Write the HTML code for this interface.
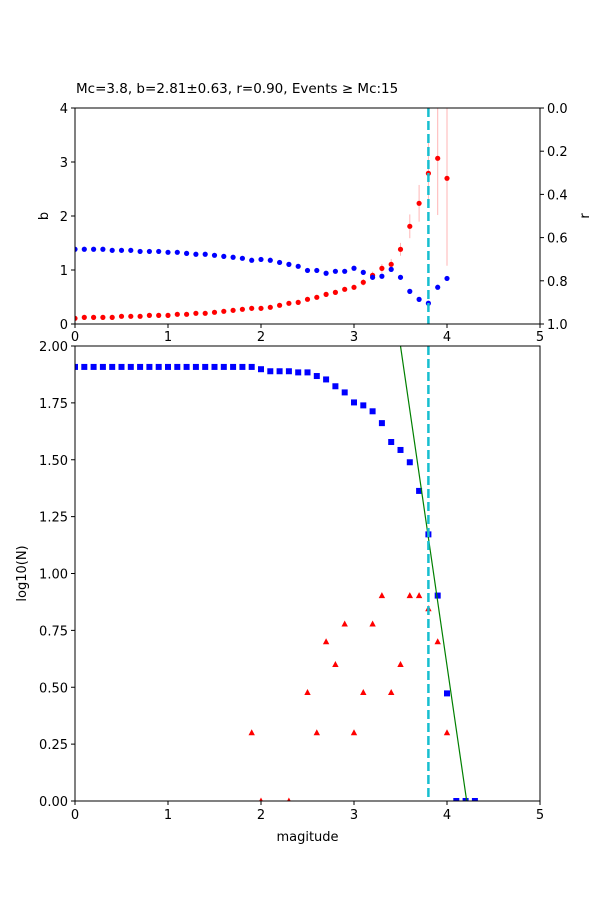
<!DOCTYPE html>
<html><head><meta charset="utf-8"><style>
html,body{margin:0;padding:0;background:#fff;}
svg{display:block;font-family:"DejaVu Sans","Liberation Sans",sans-serif;}
</style></head><body>
<svg id="chart" width="600" height="900" viewBox="0 0 600 900" xmlns="http://www.w3.org/2000/svg">
<rect width="600" height="900" fill="#fff"/>
<text x="76" y="93" font-size="13.5">Mc=3.8, b=2.81±0.63, r=0.90, Events ≥ Mc:15</text>
<g id="topPanel"></g>
<g id="botPanel"></g>
</svg>
<script>
const mags=[0,0.1,0.2,0.3,0.4,0.5,0.6,0.7,0.8,0.9,1.0,1.1,1.2,1.3,1.4,1.5,1.6,1.7,1.8,1.9,2.0,2.1,2.2,2.3,2.4,2.5,2.6,2.7,2.8,2.9,3.0,3.1,3.2,3.3,3.4,3.5,3.6,3.7,3.8,3.9,4.0];
const bVals=[0.105,0.123,0.123,0.123,0.123,0.142,0.142,0.142,0.16,0.16,0.16,0.179,0.179,0.198,0.198,0.216,0.235,0.253,0.272,0.29,0.29,0.309,0.346,0.383,0.40,0.457,0.494,0.549,0.586,0.642,0.679,0.772,0.90,1.03,1.105,1.383,1.809,2.235,2.79,3.068,2.698];
const bErr=[0.01,0.01,0.01,0.01,0.01,0.01,0.01,0.01,0.01,0.01,0.01,0.01,0.01,0.01,0.01,0.01,0.01,0.01,0.02,0.02,0.02,0.02,0.02,0.03,0.03,0.03,0.03,0.04,0.04,0.04,0.05,0.06,0.07,0.08,0.1,0.12,0.22,0.34,0.6,1.05,1.62];
const rVals=[0.654,0.654,0.654,0.654,0.659,0.659,0.659,0.664,0.664,0.664,0.668,0.668,0.673,0.677,0.677,0.682,0.687,0.691,0.696,0.705,0.701,0.705,0.715,0.724,0.733,0.752,0.752,0.765,0.756,0.756,0.742,0.761,0.784,0.779,0.747,0.784,0.849,0.886,0.904,0.830,0.789];
const cumMags=[0,0.1,0.2,0.3,0.4,0.5,0.6,0.7,0.8,0.9,1.0,1.1,1.2,1.3,1.4,1.5,1.6,1.7,1.8,1.9,2.0,2.1,2.2,2.3,2.4,2.5,2.6,2.7,2.8,2.9,3.0,3.1,3.2,3.3,3.4,3.5,3.6,3.7,3.8,3.9,4.0,4.1,4.2,4.3];
const cumLogN=[1.908,1.908,1.908,1.908,1.908,1.908,1.908,1.908,1.908,1.908,1.908,1.908,1.908,1.908,1.908,1.908,1.908,1.908,1.908,1.908,1.898,1.889,1.889,1.889,1.884,1.884,1.868,1.853,1.823,1.796,1.752,1.739,1.713,1.661,1.578,1.543,1.489,1.363,1.172,0.903,0.473,0,0,0];
const ncMags=[1.9,2.0,2.3,2.5,2.6,2.7,2.8,2.9,3.0,3.1,3.2,3.3,3.4,3.5,3.6,3.7,3.8,3.9,4.0];
const ncLogN=[0.30,0,0,0.477,0.30,0.70,0.60,0.778,0.30,0.477,0.778,0.903,0.477,0.60,0.903,0.903,0.845,0.70,0.30];
const Mc=3.8, bFit=2.81, aFit=11.835;
const xTicks=[0,1,2,3,4,5];
const bTicks=[0,1,2,3,4];
const rTicks=[0.0,0.2,0.4,0.6,0.8,1.0];
const logTicks=[0,0.25,0.5,0.75,1.0,1.25,1.5,1.75,2.0];

const NS="http://www.w3.org/2000/svg";
const L=75,R=540;
const x=m=>L+(R-L)*m/5;
const T1=108,B1=324, yb=v=>B1-(B1-T1)*v/4, yr=v=>T1+(B1-T1)*v;
const T2=346,B2=801, yl=v=>B2-(B2-T2)*v/2;
function mk(p,tag,at){const e=document.createElementNS(NS,tag);for(const k in at)e.setAttribute(k,at[k]);p.appendChild(e);return e;}
const gTop=document.getElementById('topPanel'), gBot=document.getElementById('botPanel');
const defs=mk(document.getElementById('chart'),'defs',{});
const c1=mk(defs,'clipPath',{id:'c1'});mk(c1,'rect',{x:L,y:T1,width:R-L,height:B1-T1});
const c2=mk(defs,'clipPath',{id:'c2'});mk(c2,'rect',{x:L,y:T2,width:R-L,height:B2-T2});

const g1=mk(gTop,'g',{'clip-path':'url(#c1)'});
mags.forEach((m,i)=>{
  const e=mk(g1,'line',{x1:x(m),x2:x(m),y1:yb(bVals[i]-bErr[i]),y2:yb(bVals[i]+bErr[i]),stroke:'#ffb6b6','stroke-width':1});
  
  
});
mags.forEach((m,i)=>{
  const e=mk(g1,'circle',{cx:x(m),cy:yb(bVals[i]),r:2.6,fill:'#ff0000'});
  
  
});
mags.forEach((m,i)=>{
  const e=mk(g1,'circle',{cx:x(m),cy:yr(rVals[i]),r:2.6,fill:'#0000ff'});
  
  
});
const mc1=mk(g1,'line',{x1:x(Mc),x2:x(Mc),y1:T1,y2:B1,stroke:'#17becf','stroke-width':2.5,'stroke-dasharray':'9,4'});


mk(gTop,'rect',{x:L,y:T1,width:R-L,height:B1-T1,fill:'none',stroke:'#000','stroke-width':1});
xTicks.forEach(t=>{mk(gTop,'line',{x1:x(t),x2:x(t),y1:B1,y2:B1+4,stroke:'#000'});
  const e=mk(gTop,'text',{x:x(t),y:B1+17,'font-size':13,'text-anchor':'middle'});e.textContent=t;
  
  });
bTicks.forEach(t=>{mk(gTop,'line',{x1:L-4,x2:L,y1:yb(t),y2:yb(t),stroke:'#000'});
  const e=mk(gTop,'text',{x:L-7,y:yb(t)+5,'font-size':13,'text-anchor':'end'});e.textContent=t;
  
  });
rTicks.forEach(t=>{mk(gTop,'line',{x1:R,x2:R+4,y1:yr(t),y2:yr(t),stroke:'#000'});
  const e=mk(gTop,'text',{x:R+7,y:yr(t)+5,'font-size':13,'text-anchor':'start'});e.textContent=t.toFixed(1);
  
  });
let e=mk(gTop,'text',{x:0,y:0,'font-size':13,'text-anchor':'middle',transform:`translate(48,${(T1+B1)/2}) rotate(-90)`});e.textContent='b';


e=mk(gTop,'text',{x:0,y:0,'font-size':13,'text-anchor':'middle',transform:`translate(589,${(T1+B1)/2}) rotate(-90)`});e.textContent='r';



const g2=mk(gBot,'g',{'clip-path':'url(#c2)'});
ncMags.forEach((m,i)=>{
  const cx=x(m),cy=yl(ncLogN[i]);
  const t=mk(g2,'polygon',{points:`${cx},${cy-3.5} ${cx-3.2},${cy+2.5} ${cx+3.2},${cy+2.5}`,fill:'#ff0000'});
  
  
});
cumMags.forEach((m,i)=>{
  const s=mk(g2,'rect',{x:x(m)-3,y:yl(cumLogN[i])-3,width:6,height:6,fill:'#0000ff'});
  
  
});
const m0=(aFit-2)/bFit, m1=aFit/bFit;
const fit=mk(g2,'line',{x1:x(m0),y1:yl(aFit-bFit*m0),x2:x(m1),y2:yl(aFit-bFit*m1),stroke:'#008000','stroke-width':1.2});


const mc2=mk(g2,'line',{x1:x(Mc),x2:x(Mc),y1:T2,y2:B2,stroke:'#17becf','stroke-width':2.5,'stroke-dasharray':'9,4'});


mk(gBot,'rect',{x:L,y:T2,width:R-L,height:B2-T2,fill:'none',stroke:'#000','stroke-width':1});
xTicks.forEach(t=>{mk(gBot,'line',{x1:x(t),x2:x(t),y1:B2,y2:B2+4,stroke:'#000'});
  const e=mk(gBot,'text',{x:x(t),y:B2+18,'font-size':13,'text-anchor':'middle'});e.textContent=t;
  
  });
logTicks.forEach(t=>{mk(gBot,'line',{x1:L-4,x2:L,y1:yl(t),y2:yl(t),stroke:'#000'});
  const e=mk(gBot,'text',{x:L-7,y:yl(t)+5,'font-size':13,'text-anchor':'end'});e.textContent=t.toFixed(2);
  
  });
e=mk(gBot,'text',{x:(L+R)/2,y:841,'font-size':13,'text-anchor':'middle'});e.textContent='magitude';


e=mk(gBot,'text',{x:0,y:0,'font-size':13,'text-anchor':'middle',transform:`translate(26,${(T2+B2)/2}) rotate(-90)`});e.textContent='log10(N)';


</script>
</body></html>
